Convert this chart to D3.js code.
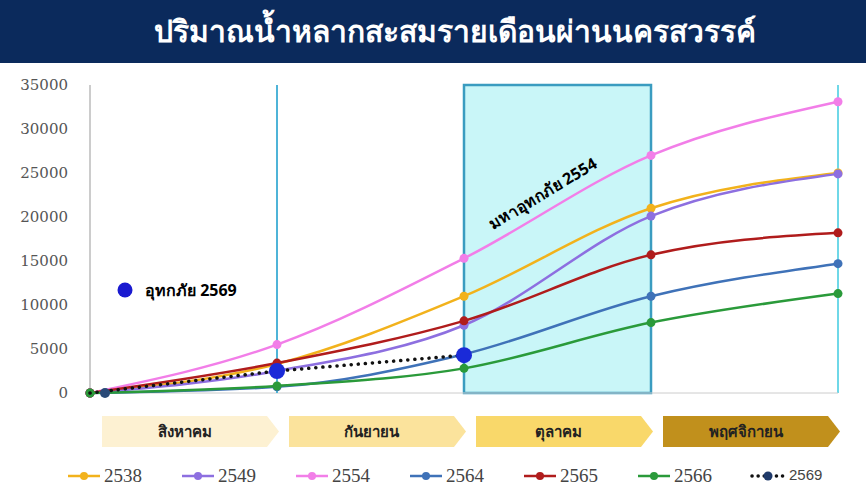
<!DOCTYPE html>
<html><head><meta charset="utf-8">
<script src="https://cdn.jsdelivr.net/npm/d3@7"></script>
<style>body{margin:0;background:#fff}svg{display:block}</style>
</head><body><svg id="c" width="866" height="488"></svg>
<script>
const title = "ปริมาณน้ำหลากสะสมรายเดือนผ่านนครสวรรค์";
const months = ["สิงหาคม","กันยายน","ตุลาคม","พฤศจิกายน"];
const yTicks = [0,5000,10000,15000,20000,25000,30000,35000];
const s2538 = [0,3300,11000,21000,25000];
const s2549 = [0,2500,7700,20100,24900];
const s2554 = [0,5500,15300,27000,33100];
const s2564 = [0,700,4400,11000,14700];
const s2565 = [0,3400,8200,15700,18200];
const s2566 = [0,800,2800,8000,11300];
const s2569 = [0,2500,4300];
const series = [
 {name:"2538",v:s2538,c:"#f2b21c"},
 {name:"2549",v:s2549,c:"#8d6fe0"},
 {name:"2554",v:s2554,c:"#f27ee8"},
 {name:"2564",v:s2564,c:"#3f72b8"},
 {name:"2565",v:s2565,c:"#b01c1c"},
 {name:"2566",v:s2566,c:"#2a9a3a"}];
const svg = d3.select("#c");
svg.append("rect").attr("width",866).attr("height",63).attr("fill","#0b2a5c");
svg.append("text").attr("x",455).attr("y",42).attr("text-anchor","middle").attr("fill","#fff")
 .attr("font-family","Noto Sans, sans-serif").attr("font-weight","bold").attr("font-size",30).text(title);
const x = d3.scaleLinear().domain([0,4]).range([90,838]);
const y = d3.scaleLinear().domain([0,35000]).range([393,85]);
svg.append("rect").attr("x",x(2)).attr("y",y(35000)).attr("width",x(3)-x(2)).attr("height",y(0)-y(35000))
 .attr("fill","#c9f6f8").attr("stroke","#3a9cc0").attr("stroke-width",2.5);
svg.append("line").attr("x1",x(4)).attr("x2",x(4)).attr("y1",y(35000)).attr("y2",y(0)).attr("stroke","#6fd8e8").attr("stroke-width",2);
const yAxis = d3.axisLeft(y).tickValues(yTicks).tickSize(0).tickFormat(d=>d);
const ga = svg.append("g").attr("transform","translate(80,0)").call(yAxis);
ga.select(".domain").remove();
ga.selectAll("text").attr("font-family","DejaVu Serif, serif").attr("font-size",15).attr("fill","#555").attr("x",-12);
svg.append("line").attr("x1",x(0)).attr("x2",x(0)).attr("y1",y(35000)).attr("y2",y(0)).attr("stroke","#ccc").attr("stroke-width",2);
svg.append("line").attr("x1",x(0)).attr("x2",x(4)).attr("y1",y(0)).attr("y2",y(0)).attr("stroke","#ccc");
svg.append("line").attr("x1",x(1)).attr("x2",x(1)).attr("y1",y(35000)).attr("y2",y(0)).attr("stroke","#4fb4d8").attr("stroke-width",2);
svg.append("text").attr("transform",`translate(493,230) rotate(-31)`).attr("font-family","Noto Sans, sans-serif")
 .attr("font-weight","bold").attr("font-size",16).text("มหาอุทกภัย 2554");
const line = d3.line().x((d,i)=>x(i)).y(d=>y(d)).curve(d3.curveMonotoneX);
series.forEach(s=>{
 svg.append("path").attr("d",line(s.v)).attr("fill","none").attr("stroke",s.c).attr("stroke-width",2.5);
 svg.selectAll(null).data(s.v).enter().append("circle").attr("cx",(d,i)=>x(i)).attr("cy",d=>y(d)).attr("r",4.5).attr("fill",s.c);
});
svg.append("path").attr("d",d3.line().x((d,i)=>x(i)).y(d=>y(d))(s2569)).attr("fill","none").attr("stroke","#111")
 .attr("stroke-width",3.5).attr("stroke-dasharray","0.1 7").attr("stroke-linecap","round");
svg.selectAll(null).data(s2569).enter().append("circle").attr("cx",(d,i)=>x(i)+(i==0?15:0)).attr("cy",d=>y(d)).attr("r",(d,i)=>i==0?5:8).attr("fill",(d,i)=>i==0?"#2a4a78":"#1a2ad8");
svg.append("circle").attr("cx",125).attr("cy",290).attr("r",7.5).attr("fill","#1a1ad0");
svg.append("text").attr("x",145).attr("y",296).attr("font-family","Noto Sans, sans-serif").attr("font-weight","bold").attr("font-size",16).text("อุทกภัย 2569");
const fills = ["#fdf1d2","#fbe39c","#f9d86a","#c1901c"];
months.forEach((m,i)=>{
 const x0 = x(i)+12, x1 = x(i+1)-10, t=416, b=447;
 svg.append("path").attr("d",`M${x0},${t}L${x1},${t}L${x1+12},${(t+b)/2}L${x1},${b}L${x0},${b}Z`).attr("fill",fills[i]);
 svg.append("text").attr("x",(x0+x1)/2).attr("y",437).attr("text-anchor","middle").attr("font-family","Noto Sans, sans-serif")
  .attr("font-weight","bold").attr("font-size",15).attr("fill","#222").text(m);
});
let lx = 68;
series.forEach(s=>{
 svg.append("line").attr("x1",lx).attr("x2",lx+32).attr("y1",476).attr("y2",476).attr("stroke",s.c).attr("stroke-width",2.5);
 svg.append("circle").attr("cx",lx+16).attr("cy",476).attr("r",4).attr("fill",s.c);
 svg.append("text").attr("x",lx+36).attr("y",482).attr("font-family","Liberation Serif, serif").attr("font-size",19).attr("fill","#444").text(s.name);
 lx += 114;
});
svg.append("line").attr("x1",lx).attr("x2",lx+32).attr("y1",476).attr("y2",476).attr("stroke","#111").attr("stroke-width",3.5).attr("stroke-dasharray","0.1 6").attr("stroke-linecap","round");
svg.append("circle").attr("cx",lx+16).attr("cy",476).attr("r",4.5).attr("fill","#1f3a6a");
svg.append("text").attr("x",lx+37).attr("y",480).attr("font-family","Liberation Sans, sans-serif").attr("font-size",15).attr("fill","#444").text("2569");
</script></body></html>
